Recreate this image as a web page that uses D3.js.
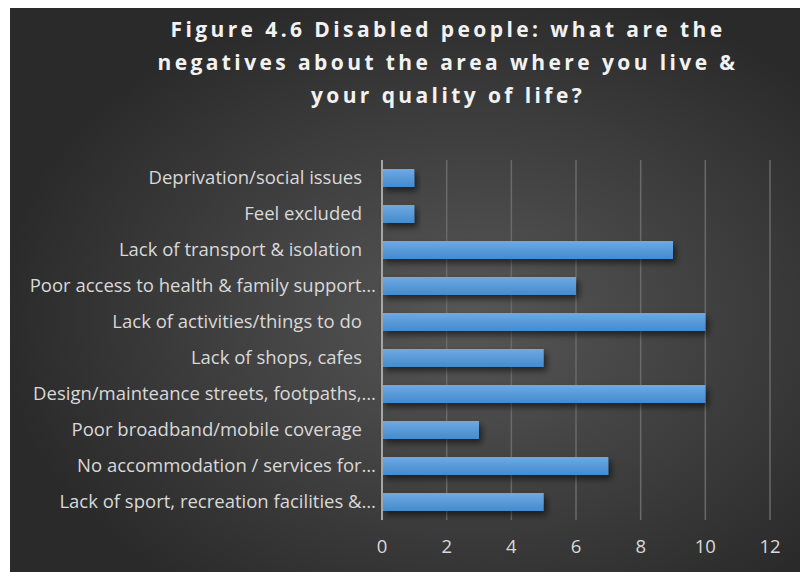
<!DOCTYPE html>
<html>
<head>
<meta charset="utf-8">
<script src="https://cdn.jsdelivr.net/npm/d3@7"></script>
<style>
  html, body { margin: 0; padding: 0; background: #fff; }
  svg { display: block; }
</style>
</head>
<body>
<svg id="chart" width="800" height="572"></svg>
<script>
const titleLines = [
  'Figure 4.6 Disabled people: what are the',
  'negatives about the area where you live &',
  'your quality of life?'
];
const categories = [
  'Deprivation/social issues',
  'Feel excluded',
  'Lack of transport & isolation',
  'Poor access to health & family support…',
  'Lack of activities/things to do',
  'Lack of shops, cafes',
  'Design/mainteance streets, footpaths,…',
  'Poor broadband/mobile coverage',
  'No accommodation / services for…',
  'Lack of sport, recreation facilities &…'
];
const values = [1, 1, 9, 6, 10, 5, 10, 3, 7, 5];
const xTicks = [0, 2, 4, 6, 8, 10, 12];

const svg = d3.select('#chart');
const defs = svg.append('defs');

const bg = defs.append('radialGradient').attr('id', 'bg')
  .attr('cx', '58%').attr('cy', '55%').attr('r', '60%');
bg.append('stop').attr('offset', '0%').attr('stop-color', '#575757');
bg.append('stop').attr('offset', '100%').attr('stop-color', '#2a2a2a');

const barGrad = defs.append('linearGradient').attr('id', 'bar')
  .attr('x1', 0).attr('y1', 0).attr('x2', 0).attr('y2', 1);
barGrad.append('stop').attr('offset', '0%').attr('stop-color', '#70a9e2');
barGrad.append('stop').attr('offset', '100%').attr('stop-color', '#438bd0');

const shadow = defs.append('filter').attr('id', 'shadow')
  .attr('x', '-10%').attr('y', '-50%').attr('width', '130%').attr('height', '250%');
shadow.append('feDropShadow').attr('dx', 3).attr('dy', 4).attr('stdDeviation', 3)
  .attr('flood-color', '#000').attr('flood-opacity', 0.55);

svg.append('rect').attr('x', 10).attr('y', 8).attr('width', 790).attr('height', 564)
  .attr('fill', 'url(#bg)');

// title
svg.append('g').selectAll('text').data(titleLines).join('text')
  .attr('x', 448).attr('y', (d, i) => 37 + i * 33)
  .attr('text-anchor', 'middle')
  .attr('fill', '#f2f2f2')
  .style('font-family', '"Open Sans", Lato, sans-serif')
  .style('font-weight', 'bold')
  .style('font-size', '21px')
  .style('letter-spacing', '3.4px')
  .text(d => d);

const x = d3.scaleLinear().domain([0, 12]).range([382, 770]);
const y = d3.scaleBand().domain(categories).range([160, 520]).paddingInner(0.5).paddingOuter(0.25);

// gridlines
svg.append('g').selectAll('line').data(xTicks.slice(1)).join('line')
  .attr('x1', d => x(d)).attr('x2', d => x(d))
  .attr('y1', 160).attr('y2', 520)
  .attr('stroke', '#6a6a6a').attr('stroke-width', 1.5);

// bars
svg.append('g').selectAll('rect').data(values).join('rect')
  .attr('x', x(0))
  .attr('y', (d, i) => y(categories[i]))
  .attr('width', d => x(d) - x(0))
  .attr('height', y.bandwidth())
  .attr('fill', 'url(#bar)')
  .attr('filter', 'url(#shadow)');

// y axis line
svg.append('line').attr('x1', x(0)).attr('x2', x(0)).attr('y1', 160).attr('y2', 520)
  .attr('stroke', '#a6a6a6').attr('stroke-width', 2);

// category labels: truncated labels sit closer to the axis
svg.append('g').selectAll('text').data(categories).join('text')
  .attr('x', d => d.endsWith('…') ? 376 : 362)
  .attr('y', d => y(d) + y.bandwidth() / 2)
  .attr('dy', '0.35em')
  .attr('text-anchor', 'end')
  .attr('fill', '#d9d9d9')
  .style('font-family', '"Open Sans", Lato, sans-serif')
  .style('font-size', '18.5px')
  .text(d => d);

// x tick labels
svg.append('g').selectAll('text').data(xTicks).join('text')
  .attr('x', d => x(d))
  .attr('y', 547)
  .attr('dy', '0.35em')
  .attr('text-anchor', 'middle')
  .attr('fill', '#d9d9d9')
  .style('font-family', '"Open Sans", Lato, sans-serif')
  .style('font-size', '18.5px')
  .text(d => d);
</script>
</body>
</html>
